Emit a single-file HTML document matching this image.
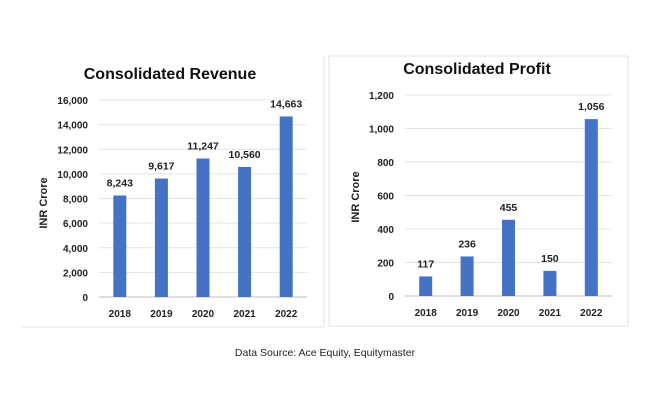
<!DOCTYPE html>
<html><head><meta charset="utf-8"><style>
html,body{margin:0;padding:0;background:#fff;}
svg{display:block;font-family:"Liberation Sans",Arial,sans-serif;}
</style></head><body>
<svg id="c" width="650" height="400" viewBox="0 0 650 400">
<line x1="324" y1="56" x2="324" y2="327" stroke="#e3e3e3"/>
<line x1="22" y1="327" x2="324" y2="327" stroke="#e3e3e3"/>
<rect x="329" y="56" width="299" height="270" fill="none" stroke="#e3e3e3"/>
<text x="325" y="356" text-anchor="middle" font-size="10.5" fill="#222">Data Source: Ace Equity, Equitymaster</text>
</svg>
<script>
const years = ["2018","2019","2020","2021","2022"];
const revenue = [8243, 9617, 11247, 10560, 14663];
const revenueLabels = ["8,243","9,617","11,247","10,560","14,663"];
const revenueTicks = [0,2000,4000,6000,8000,10000,12000,14000,16000];
const profit = [117, 236, 455, 150, 1056];
const profitLabels = ["117","236","455","150","1,056"];
const profitTicks = [0,200,400,600,800,1000,1200];

const svg = document.getElementById('c');
const NS = 'http://www.w3.org/2000/svg';
function mk(tag, attrs, txt){
  const e = document.createElementNS(NS, tag);
  for (const k in attrs) e.setAttribute(k, attrs[k]);
  if (txt !== undefined) e.textContent = txt;
  svg.appendChild(e);
  return e;
}
function fmt(v){ return v.toLocaleString('en-US'); }

function chart(cfg, prefix){
  const y = v => cfg.y0 - (v / cfg.max) * (cfg.y0 - cfg.yTop);
  const bw = (cfg.x1 - cfg.x0) / cfg.cats.length;
  const x = i => cfg.x0 + bw * (i + 0.5);
  const t = mk('text', {x: cfg.tx, y: cfg.ty, 'text-anchor':'middle', 'font-size':16, 'font-weight':'bold', fill:'#111'}, cfg.title);
  
  
  const yt = mk('text', {x:0, y:0, transform:`translate(${cfg.ytx},${cfg.yty}) rotate(-90)`, 'text-anchor':'middle', 'font-size':11, 'font-weight':'bold', fill:'#222'}, 'INR Crore');
  
  
  cfg.ticks.forEach(v => {
    const g = mk('line', {x1:cfg.x0, x2:cfg.x1, y1:y(v), y2:y(v), stroke: v===0 ? '#bfbfbf' : '#e3e3e3', 'stroke-width':1});
    
    
    const l = mk('text', {x:cfg.x0 - 11, y:y(v) + 4, 'text-anchor':'end', 'font-size':10, 'font-weight':'bold', fill:'#222'}, fmt(v));
    
    
  });
  cfg.cats.forEach((c, i) => {
    const v = cfg.vals[i];
    const b = mk('rect', {x: x(i) - 6.5, y: y(v), width: 13, height: cfg.y0 - y(v), fill:'#4472C4'});
    
    
    const vl = mk('text', {x: x(i), y: y(v) - 9, 'text-anchor':'middle', 'font-size':10.5, 'font-weight':'bold', fill:'#222'}, cfg.labels[i]);
    
    
    const xl = mk('text', {x: x(i), y: cfg.y0 + 20, 'text-anchor':'middle', 'font-size':10, 'font-weight':'bold', fill:'#222'}, c);
    
    
  });
}
chart({title:'Consolidated Revenue', cats:years, vals:revenue, labels:revenueLabels, ticks:revenueTicks, max:16000,
  x0:99, x1:307, y0:297, yTop:100, tx:170, ty:79, ytx:47, yty:203}, 'revenue');
chart({title:'Consolidated Profit', cats:years, vals:profit, labels:profitLabels, ticks:profitTicks, max:1200,
  x0:405, x1:612, y0:296, yTop:95, tx:477, ty:74, ytx:359, yty:197}, 'profit');
</script>
</body></html>
